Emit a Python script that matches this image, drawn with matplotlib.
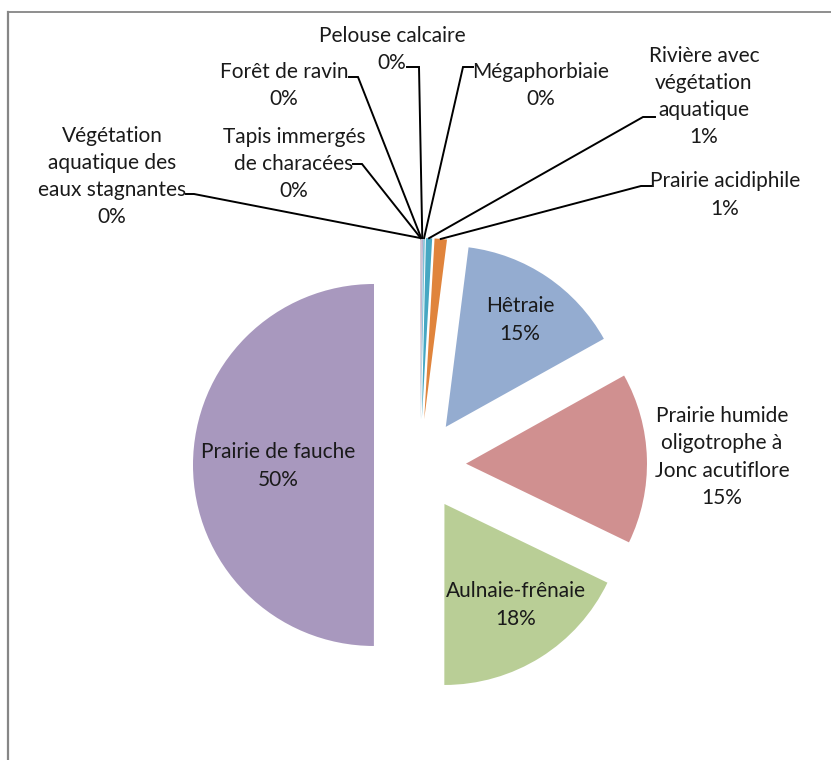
import matplotlib
matplotlib.use("Agg")
import matplotlib.pyplot as plt
import numpy as np

plt.rcParams['font.family'] = ['Lato', 'DejaVu Sans']

# habitat shares (%), clockwise from 12 o'clock
habitats = [
    "Végétation\naquatique des\neaux stagnantes",
    "Tapis immergés\nde characées",
    "Forêt de ravin",
    "Pelouse calcaire",
    "Mégaphorbiaie",
    "Rivière avec\nvégétation\naquatique",
    "Prairie acidiphile",
    "Hêtraie",
    "Prairie humide\noligotrophe à\nJonc acutiflore",
    "Aulnaie-frênaie",
    "Prairie de fauche",
]
shares = [0.03, 0.03, 0.05, 0.10, 0.15, 0.55, 1.10, 14.90, 15.25, 17.85, 49.99]
colors = ['#cdb0b0', '#b9a3a8', '#b0a4c4', '#a99cc0', '#7fc1d6', '#46a7c2',
          '#e0843c', '#94acd0', '#d09090', '#b9ce96', '#a898be']

W, H = 831, 760


def py(y):
    # pixel row -> data y (y axis points up)
    return H - y


CX, CY, R, EXPL = 420, py(465), 181, 46

# label layout: text centre, leader stub (start, end) or None for inside labels
label_pos = [(112, 176.5), (294, 164), (284, 85.5), (392, 49.5), (541, 85.5),
             (704, 96.5), (725, 195), (520, 320), (722, 457), (516, 605), (278, 466)]
stubs = [((186, 194), (194, 194)), ((353, 164), (362, 164)), ((349, 77), (358, 77)),
         ((407, 67), (419, 67)), ((473, 67), (463, 67)), ((655, 117), (643, 117)),
         ((652, 186), (641, 186)), None, None, None, None]

fig = plt.figure(figsize=(W / 100, H / 100), dpi=100)
ax = fig.add_axes([0, 0, 1, 1])

wedges, _ = ax.pie(shares, colors=colors, explode=[EXPL] * len(shares),
                   center=(CX, CY), radius=R, startangle=90, counterclock=False,
                   wedgeprops=dict(linewidth=0))

ax.set_xlim(0, W)
ax.set_ylim(0, H)
ax.set_aspect('auto')
ax.axis('off')

for w, name, val, (tx, ty), stub in zip(wedges, habitats, shares, label_pos, stubs):
    ax.text(tx, py(ty), f"{name}\n{val:.0f}%", ha='center', va='center',
            fontsize=15, color='#1a1a1a', linespacing=1.45)
    if stub is None:
        continue
    mid = np.deg2rad((w.theta1 + w.theta2) / 2)
    ex = w.center[0] + R * np.cos(mid)
    ey = w.center[1] + R * np.sin(mid)
    (sx0, sy0), (sx1, sy1) = stub
    ax.plot([sx0, sx1, ex], [py(sy0), py(sy1), ey], color='black', lw=1.4,
            solid_joinstyle='miter')

# chart frame (only top and left edges visible)
ax.plot([7.5, W], [py(11.5), py(11.5)], color='#868686', lw=1.3, clip_on=False)
ax.plot([7.5, 7.5], [py(11.5), 0], color='#868686', lw=1.6, clip_on=False)

fig.savefig('out.png', dpi=100)
